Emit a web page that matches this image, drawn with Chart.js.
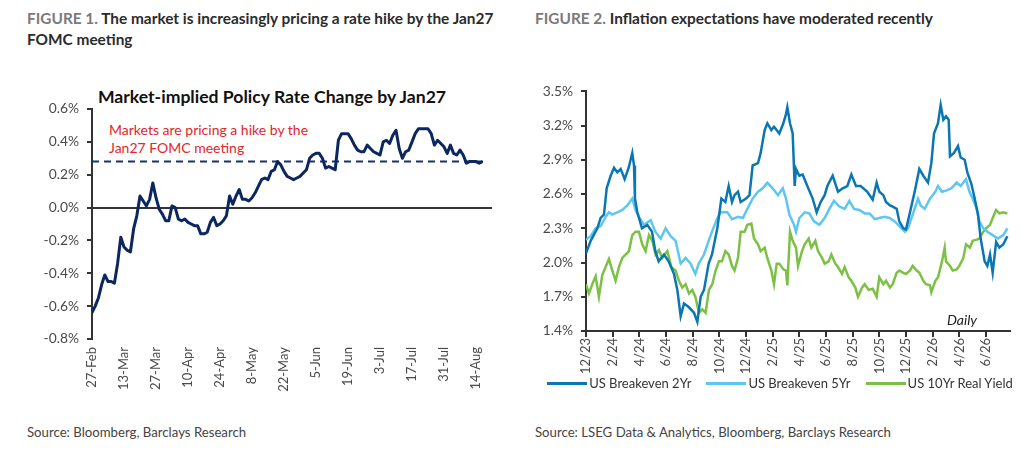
<!DOCTYPE html>
<html>
<head>
<meta charset="utf-8">
<script src="https://cdn.jsdelivr.net/npm/chart.js@4.4.1/dist/chart.umd.min.js"></script>
<style>
  html, body { margin:0; padding:0; background:#fff; width:1024px; height:451px; overflow:hidden; font-family: Lato, "Open Sans", sans-serif; }
  .abs { position:absolute; }
  .head { font-weight:700; font-size:15.4px; color:#2b2b2b; line-height:21px; }
  .head .fig { color:#7a7a7a; }
  .src { font-size:13.2px; color:#444; }
  .box { position:absolute; }
  #legend2 { position:absolute; left:536px; top:375px; width:488px; display:flex; justify-content:center; gap:15px; font-size:13px; color:#333; }
  #legend2 .item { display:flex; align-items:center; white-space:nowrap; }
  #legend2 .sw { display:inline-block; width:40px; height:3px; margin-right:2px; }
</style>
</head>
<body>
<div class="abs head" style="left:27px; top:8px; width:482px;"><span class="fig">FIGURE 1.</span> The market is increasingly pricing a rate hike by the Jan27 FOMC meeting</div>
<div class="abs head" style="left:535px; top:8px; width:480px;"><span class="fig">FIGURE 2.</span> Inflation expectations have moderated recently</div>

<div class="abs" style="left:30px; top:86px; width:484px; text-align:center; font-weight:700; font-size:17.6px; color:#111;">Market-implied Policy Rate Change by Jan27</div>
<div class="abs" style="left:109px; top:121px; font-size:14px; line-height:18px; color:#e3262b;">Markets are pricing a hike by the<br>Jan27 FOMC meeting</div>

<div class="box" style="left:30px; top:80px; width:482px; height:320px;"><canvas id="c1"></canvas></div>
<div class="box" style="left:530px; top:75px; width:494px; height:302px;"><canvas id="c2"></canvas></div>
<div id="legend2"></div>

<div class="abs" style="left:947px; top:311px; font-style:italic; font-size:14px; color:#222;">Daily</div>

<div class="abs src" style="left:27px; top:424px;">Source: Bloomberg, Barclays Research</div>
<div class="abs src" style="left:535px; top:424px;">Source: LSEG Data &amp; Analytics, Bloomberg, Barclays Research</div>

<script>
// ---------- Figure 1 data (business days from 27-Feb) ----------
const fig1TickLabels = ["27-Feb","13-Mar","27-Mar","10-Apr","24-Apr","8-May","22-May","5-Jun","19-Jun","3-Jul","17-Jul","31-Jul","14-Aug"];
const fig1Values = [
  -0.64,-0.60,-0.55,-0.47,-0.41,-0.45,-0.45,-0.46,-0.34,-0.18,
  -0.24,-0.26,-0.27,-0.13,-0.05,0.07,0.04,0.01,0.05,0.15,
  0.06,-0.01,-0.04,-0.08,-0.08,0.01,0.00,-0.07,-0.08,-0.07,
  -0.09,-0.10,-0.11,-0.11,-0.16,-0.16,-0.15,-0.09,-0.06,-0.11,
  -0.10,-0.08,-0.05,0.07,0.02,0.07,0.11,0.05,0.05,0.04,
  0.06,0.09,0.13,0.17,0.18,0.17,0.22,0.23,0.28,0.26,
  0.22,0.19,0.18,0.17,0.18,0.19,0.21,0.23,0.30,0.32,
  0.33,0.33,0.30,0.24,0.25,0.24,0.23,0.41,0.45,0.45,
  0.45,0.42,0.38,0.35,0.34,0.34,0.38,0.36,0.34,0.33,
  0.32,0.40,0.41,0.39,0.44,0.47,0.36,0.30,0.34,0.35,
  0.40,0.45,0.48,0.48,0.48,0.48,0.45,0.38,0.41,0.39,
  0.37,0.33,0.38,0.33,0.32,0.35,0.32,0.27,0.28,0.28,
  0.28,0.27,0.28
];
const fig1PricedLevel = 0.28;
const fig1Ticks = { min:-0.8, max:0.6, step:0.2 };

// ---------- Figure 2 data (months since Dec-2023) ----------
const fig2TickLabels = ["12/23","2/24","4/24","6/24","8/24","10/24","12/24","2/25","4/25","6/25","8/25","10/25","12/25","2/26","4/26","6/26"];
const be2yMonths = [0,0.35,0.85,1.1,1.35,1.55,1.85,2.1,2.35,2.6,2.9,3.2,3.47,3.6,3.67,3.85,4.2,4.6,4.95,5.2,5.45,5.85,6.2,6.6,6.85,7.1,7.35,7.7,8.1,8.35,8.6,8.85,9.2,9.45,9.85,10.15,10.45,10.7,10.95,11.14,11.4,11.6,12.0,12.26,12.5,12.9,13.1,13.4,13.6,13.9,14.1,14.5,14.8,15.0,15.1,15.3,15.5,15.65,15.75,16.0,16.25,16.6,17.0,17.3,17.6,17.9,18.1,18.5,18.9,19.25,19.6,19.9,20.25,20.6,21.1,21.5,21.8,22.0,22.3,22.5,22.8,23.0,23.3,23.5,23.8,24.0,24.3,24.65,25.0,25.3,25.65,25.9,26.1,26.4,26.6,26.8,27.0,27.2,27.3,27.6,27.9,28.1,28.4,28.6,28.9,29.1,29.4,29.6,29.9,30.1,30.3,30.5,30.76,31.0,31.3,31.6];
const be2yValues = [2.08,2.19,2.30,2.39,2.42,2.65,2.76,2.83,2.79,2.82,2.73,2.83,2.96,2.85,2.56,2.44,2.30,2.33,2.27,2.10,2.01,2.07,2.01,1.90,1.76,1.53,1.64,1.61,1.56,1.48,1.70,1.76,1.99,2.07,2.30,2.56,2.53,2.67,2.53,2.59,2.62,2.53,2.56,2.59,2.85,2.87,2.96,3.16,3.22,3.16,3.19,3.13,3.22,3.30,3.36,3.22,3.13,2.67,2.82,2.76,2.77,2.67,2.56,2.44,2.53,2.59,2.67,2.76,2.62,2.65,2.67,2.77,2.67,2.67,2.62,2.55,2.70,2.62,2.59,2.53,2.50,2.49,2.47,2.36,2.30,2.29,2.44,2.62,2.82,2.76,2.70,2.87,3.13,3.22,3.38,3.25,3.28,3.25,2.93,2.96,3.02,2.92,2.90,2.79,2.69,2.59,2.42,2.21,2.01,1.97,2.07,1.91,2.18,2.13,2.16,2.23];
const be5yMonths = [0,0.35,0.72,1.1,1.47,1.72,1.97,2.35,2.72,3.1,3.47,3.72,3.97,4.35,4.85,5.2,5.6,5.97,6.35,6.72,7.1,7.47,7.85,8.2,8.45,8.85,9.2,9.45,9.85,10.1,10.6,10.95,11.4,11.76,12.1,12.5,12.9,13.25,13.6,14.0,14.4,14.76,15.0,15.25,15.6,15.75,16.0,16.4,16.75,17.1,17.5,17.9,18.25,18.6,19.0,19.4,19.75,20.1,20.5,20.9,21.27,21.65,22.0,22.4,22.77,23.15,23.5,23.9,24.15,24.5,24.9,25.1,25.4,25.8,26.2,26.4,26.7,27.0,27.4,27.8,28.1,28.5,28.76,29.0,29.3,29.5,29.8,30.1,30.5,30.9,31.3,31.6];
const be5yValues = [2.20,2.23,2.30,2.32,2.40,2.44,2.42,2.44,2.46,2.50,2.56,2.46,2.40,2.33,2.37,2.27,2.21,2.30,2.23,2.19,1.99,2.04,1.99,1.90,1.99,2.07,2.19,2.27,2.39,2.44,2.44,2.38,2.40,2.39,2.47,2.56,2.62,2.65,2.70,2.65,2.59,2.65,2.56,2.42,2.33,2.27,2.39,2.44,2.43,2.36,2.33,2.39,2.47,2.54,2.49,2.47,2.54,2.47,2.46,2.43,2.43,2.38,2.39,2.40,2.39,2.36,2.32,2.27,2.30,2.42,2.56,2.50,2.47,2.56,2.62,2.67,2.62,2.63,2.65,2.70,2.67,2.73,2.62,2.56,2.47,2.36,2.30,2.27,2.24,2.21,2.24,2.30];
const ry10Months = [0,0.22,0.47,0.72,0.97,1.22,1.47,1.72,1.97,2.22,2.47,2.72,2.97,3.22,3.47,3.72,3.97,4.22,4.47,4.72,4.97,5.22,5.47,5.72,6.1,6.4,6.72,6.97,7.22,7.47,7.72,7.97,8.2,8.47,8.72,8.97,9.22,9.47,9.72,9.97,10.2,10.45,10.7,10.95,11.14,11.4,11.6,11.9,12.1,12.4,12.6,12.9,13.1,13.4,13.6,13.9,14.1,14.3,14.5,14.8,15.0,15.1,15.3,15.5,15.75,15.9,16.2,16.4,16.7,16.9,17.2,17.4,17.7,17.9,18.2,18.4,18.7,18.9,19.2,19.4,19.7,19.9,20.2,20.4,20.7,20.9,21.2,21.5,21.8,22.0,22.3,22.5,22.8,23.0,23.3,23.5,23.8,24.0,24.3,24.5,24.8,25.0,25.3,25.5,25.8,25.9,26.2,26.4,26.7,26.9,27.0,27.3,27.5,27.8,28.0,28.3,28.5,28.8,29.0,29.3,29.5,29.8,30.0,30.3,30.5,30.76,31.0,31.3,31.6];
const ry10Values = [1.81,1.73,1.81,1.88,1.70,1.89,1.96,2.03,1.93,1.84,1.96,2.04,2.07,2.10,2.24,2.27,2.27,2.16,2.10,2.24,2.19,2.07,2.11,2.04,2.10,1.96,1.93,1.84,1.78,1.81,1.73,1.76,1.70,1.56,1.59,1.56,1.76,1.81,1.93,2.01,2.01,2.10,2.07,1.97,1.93,2.04,2.27,2.27,2.33,2.34,2.21,2.16,2.10,2.13,2.04,1.93,1.81,1.99,1.99,1.94,1.93,1.80,2.27,2.19,2.13,1.97,2.10,2.16,2.21,2.13,2.19,2.10,2.04,1.99,2.01,2.07,1.99,1.96,1.90,1.96,1.87,1.84,1.78,1.70,1.78,1.81,1.76,1.77,1.70,1.87,1.81,1.84,1.78,1.81,1.91,1.93,1.91,1.90,1.93,1.97,1.93,1.91,1.84,1.81,1.80,1.74,1.84,1.87,2.01,2.13,2.01,1.97,1.93,1.94,1.97,2.04,2.16,2.13,2.19,2.20,2.21,2.27,2.30,2.33,2.39,2.46,2.43,2.44,2.43];
const fig2SeriesNames = ["US Breakeven 2Yr","US Breakeven 5Yr","US 10Yr Real Yield"];
const fig2Colors = ['#0a76b2', '#5ec6f0', '#7cc145'];
const fig2Ticks = { min:1.4, max:3.5, step:0.3 };

// ---------- helpers ----------
const FONT = "Lato, 'Open Sans', sans-serif";
Chart.defaults.font.family = FONT;
Chart.defaults.color = '#4a4a4a';
const pts = (xs, ys) => xs.map((x, i) => ({ x: x, y: ys[i] }));
const pct = v => (Math.abs(v) < 1e-9 ? 0 : v).toFixed(1) + '%';

// ---------- Figure 1 chart ----------
const f1LastX = fig1Values.length - 1;
new Chart(document.getElementById('c1'), {
  type: 'line',
  data: {
    datasets: [
      {
        data: fig1Values.map((v, i) => ({ x: i, y: v })),
        borderColor: '#0c2660', borderWidth: 3, pointRadius: 0, tension: 0,
        borderJoinStyle: 'round'
      },
      {
        data: [{ x: 0, y: fig1PricedLevel }, { x: f1LastX + 1.5, y: fig1PricedLevel }],
        borderColor: '#1a3466', borderWidth: 2, borderDash: [7, 5], pointRadius: 0
      }
    ]
  },
  options: {
    responsive: true, maintainAspectRatio: false, animation: false,
    layout: { padding: { top: 29, right: 20, left: 0, bottom: 0 } },
    plugins: { legend: { display: false }, tooltip: { enabled: false }, title: { display: false } },
    scales: {
      x: {
        type: 'linear', min: 0, max: 125,
        afterFit: s => { s.height = 61; },
        border: { display: false },
        grid: { display: false },
        ticks: {
          stepSize: 10, includeBounds: false, autoSkip: false,
          maxRotation: 90, minRotation: 90, padding: 0,
          font: { size: 13 }, color: '#4a4a4a',
          callback: v => fig1TickLabels[Math.round(v / 10)] || ''
        }
      },
      y: {
        min: fig1Ticks.min, max: fig1Ticks.max,
        afterFit: s => { s.width = 62; },
        border: { display: true, color: '#333', width: 2 },
        grid: {
          drawOnChartArea: true, drawTicks: true, tickLength: 5, tickColor: '#333', lineWidth: 2,
          color: c => (c.tick && Math.abs(c.tick.value) < 1e-9) ? '#333' : 'rgba(0,0,0,0)'
        },
        ticks: { stepSize: fig1Ticks.step, padding: 8, font: { size: 13.8 }, color: '#4a4a4a', callback: pct }
      }
    }
  }
});

// ---------- Figure 2 chart ----------
const fig2Series = [[be2yMonths, be2yValues], [be5yMonths, be5yValues], [ry10Months, ry10Values]];
const chart2 = new Chart(document.getElementById('c2'), {
  type: 'line',
  data: {
    datasets: fig2Series.map((s, i) => ({
      label: fig2SeriesNames[i], data: pts(s[0], s[1]),
      borderColor: fig2Colors[i], backgroundColor: fig2Colors[i],
      borderWidth: 2.5, pointRadius: 0, tension: 0
    }))
  },
  options: {
    responsive: true, maintainAspectRatio: false, animation: false,
    layout: { padding: { top: 14, right: 14, left: 0, bottom: 0 } },
    plugins: { tooltip: { enabled: false }, legend: { display: false } },
    scales: {
      x: {
        type: 'linear', min: 0, max: 31.8,
        afterFit: s => { s.height = 46; },
        border: { display: true, color: '#333', width: 2 },
        grid: { drawOnChartArea: false, drawTicks: true, tickLength: 6, tickColor: '#333', lineWidth: 2 },
        ticks: {
          stepSize: 2, includeBounds: false, autoSkip: false,
          maxRotation: 90, minRotation: 90, padding: 1,
          font: { size: 13 }, color: '#4a4a4a',
          callback: v => fig2TickLabels[Math.round(v / 2)] || ''
        }
      },
      y: {
        min: fig2Ticks.min, max: fig2Ticks.max,
        afterFit: s => { s.width = 56; },
        border: { display: true, color: '#333', width: 2 },
        grid: { drawOnChartArea: false, drawTicks: true, tickLength: 5, tickColor: '#333', lineWidth: 2 },
        ticks: { stepSize: fig2Ticks.step, padding: 8, font: { size: 13.8 }, color: '#4a4a4a', callback: pct }
      }
    }
  }
});

// HTML legend built from the chart's datasets
const lg = document.getElementById('legend2');
chart2.data.datasets.forEach(ds => {
  const it = document.createElement('span'); it.className = 'item';
  const sw = document.createElement('span'); sw.className = 'sw'; sw.style.background = ds.borderColor;
  it.appendChild(sw); it.appendChild(document.createTextNode(ds.label));
  lg.appendChild(it);
});
</script>
</body>
</html>
